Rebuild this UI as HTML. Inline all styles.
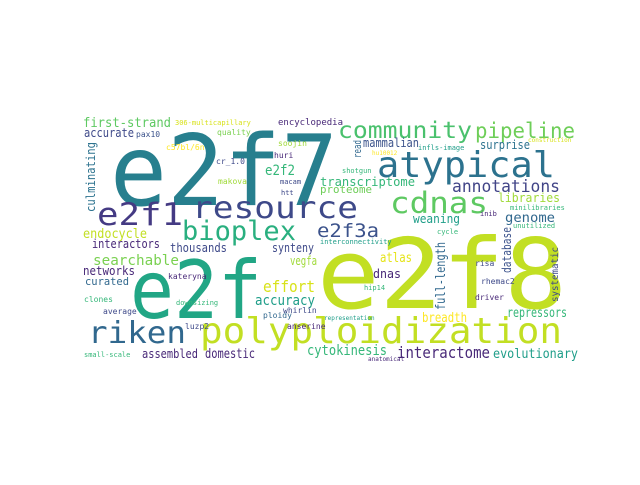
<!DOCTYPE html>
<html><head><meta charset="utf-8"><style>
html,body{margin:0;padding:0;background:#fff;}
svg text{font-family:"DejaVu Sans Mono","Liberation Mono",monospace;}
</style></head><body>
<svg width="640" height="480" viewBox="0 0 640 480" xmlns="http://www.w3.org/2000/svg">
<rect width="640" height="480" fill="#fff"/>
<g id="words"></g>
</svg>
<script>
// word, x, baseline, size, color, vertical, textLength
const words = [
["e2f7",110,205,98,"#277f8e",0,228],
["e2f8",317,308,97,"#c2df23",0,250],
["e2f",130,318,80,"#21a685",0,132],
["atypical",377,177,36,"#2c728e",0,178],
["resource",192,218,30,"#3e4989",0,166],
["cdnas",390,213,29,"#5ec962",0,98],
["community",338,138,23,"#4ac16d",0,134],
["pipeline",475,138,21,"#6ece58",0,100],
["bioplex",182,240,27,"#29af7f",0,114],
["e2f1",97,225,31,"#443a83",0,86],
["riken",88,343,30,"#31688e",0,98],
["polyploidization",200,343,36,"#c2df23",0,362],
["first-strand",83,127,13,"#5ec962",0,88],
["accurate",84,137,12,"#3e4989",0,50],
["culminating",95,212,12,"#2c728e",1,70],
["endocycle",83,238,13,"#c2df23",0,64],
["e2f3a",317,237,19,"#3b528b",0,62],
["annotations",452,192,17,"#414487",0,108],
["transcriptome",320,186,12,"#35b779",0,95],
["proteome",320,193,11,"#6ece58",0,52],
["mammalian",363,147,12,"#3b528b",0,56],
["surprise",480,149,12,"#2c728e",0,50],
["libraries",498,202,12,"#a0da39",0,62],
["genome",505,222,13,"#31688e",0,50],
["weaning",413,223,12,"#1f9e89",0,47],
["searchable",93,265,14,"#7ad151",0,86],
["interactors",92,248,12,"#482878",0,68],
["networks",83,275,12,"#482878",0,52],
["curated",85,285,11,"#31688e",0,44],
["thousands",170,252,12,"#3e4989",0,57],
["synteny",272,252,12,"#3e4989",0,42],
["vegfa",290,265,12,"#a0da39",0,27],
["effort",263,292,16,"#d8e219",0,52],
["accuracy",255,305,14,"#1f9e89",0,60],
["assembled",142,358,12,"#482878",0,56],
["domestic",205,358,13,"#482878",0,50],
["cytokinesis",307,355,14,"#35b779",0,80],
["interactome",397,358,16,"#482878",0,93],
["evolutionary",493,358,13,"#1f9e89",0,85],
["repressors",507,317,13,"#35b779",0,60],
["breadth",422,322,13,"#fde725",0,45],
["full-length",445,310,13,"#31688e",1,68],
["database",511,273,12,"#3b528b",1,46],
["systematic",558,302,10,"#3e4989",1,55],
["atlas",380,262,13,"#e5e419",0,32],
["dnas",373,278,12,"#482878",0,28],
["read",361,158,11,"#31688e",1,18],
["pax10",136,137,8,"#3b528b",0,0],
["quality",217,135,8,"#7ad151",0,0],
["encyclopedia",278,125,9,"#482878",0,0],
["306-multicapillary",175,125,7,"#d8e219",0,0],
["c57bl/6n",166,150,8,"#fde725",0,0],
["soojin",278,146,8,"#a0da39",0,0],
["huri",274,158,8,"#482878",0,0],
["cr_1.0",216,164,8,"#3e4989",0,0],
["makova",218,184,8,"#a0da39",0,0],
["e2f2",265,175,14,"#35b779",0,30],
["macam",280,184,7,"#3e4989",0,0],
["htt",281,195,7,"#3e4989",0,0],
["infls-image",418,150,7,"#1f9e89",0,0],
["hu10012",372,155,6,"#fde725",0,0],
["shotgun",342,173,7,"#35b779",0,0],
["minilibraries",510,210,7,"#35b779",0,0],
["unutilized",513,228,7,"#35b779",0,0],
["construction",528,142,6,"#d8e219",0,0],
["inib",480,216,7,"#482878",0,0],
["cycle",437,234,7,"#35b779",0,0],
["kateryna",168,279,8,"#482878",0,0],
["ploidy",263,318,8,"#31688e",0,0],
["whirlin",283,313,8,"#3e4989",0,0],
["anserine",287,329,8,"#482878",0,0],
["luzp2",185,329,8,"#3e4989",0,0],
["clones",84,302,8,"#35b779",0,0],
["average",103,314,8,"#3e4989",0,0],
["downsizing",176,305,7,"#35b779",0,0],
["small-scale",84,357,7,"#35b779",0,0],
["risa",475,266,8,"#3e4989",0,0],
["rhemac2",481,284,8,"#3e4989",0,0],
["driver",475,300,8,"#482878",0,0],
["hip14",364,290,7,"#35b779",0,0],
["interconnectivity",320,244,7,"#1f9e89",0,0],
["anatomical",368,361,6,"#482878",0,0],
["representation",324,320,6,"#1f9e89",0,0]
];
const g = document.getElementById('words');
const NS = 'http://www.w3.org/2000/svg';
words.forEach(w => {
  const t = document.createElementNS(NS, 'text');
  
  
  t.setAttribute('x', w[1]);
  t.setAttribute('y', w[2]);
  t.setAttribute('font-size', w[3]);
  t.setAttribute('fill', w[4]);
  if (w[6]) { t.setAttribute('textLength', w[6]); t.setAttribute('lengthAdjust', 'spacingAndGlyphs'); }
  if (w[5]) t.setAttribute('transform', 'rotate(-90 ' + w[1] + ' ' + w[2] + ')');
  t.textContent = w[0];
  g.appendChild(t);
});
</script>
</body></html>
